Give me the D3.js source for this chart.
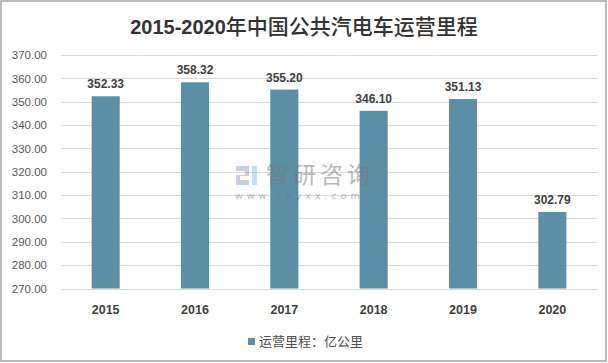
<!DOCTYPE html>
<html><head><meta charset="utf-8">
<script src="https://cdn.jsdelivr.net/npm/d3@7"></script>
<style>body{margin:0;background:#fff}svg{display:block}</style>
</head><body><svg id="c" width="608" height="363"></svg>
<script>
const years = ["2015","2016","2017","2018","2019","2020"];
const mileage = [352.33, 358.32, 355.20, 346.10, 351.13, 302.79];
const yTicks = [270,280,290,300,310,320,330,340,350,360,370];
const titleLead = "2015-2020";
const titleRest = "年中国公共汽电车运营里程";
const seriesName = "运营里程：亿公里";

const svg = d3.select("#c");
const barColor = "#5B8FA6";
const cjk = "'Noto Sans CJK SC','Microsoft YaHei',sans-serif";
const latin = "'Liberation Sans',Arial,sans-serif";
svg.append("rect").attr("x",1).attr("y",1).attr("width",605).attr("height",360)
  .attr("fill","#fff").attr("stroke","#a6a6a6").attr("stroke-width",1.5);

const x = d3.scaleBand().domain(years).range([61,597]).paddingInner(0.686).paddingOuter(0.343);
const y = d3.scaleLinear().domain([270,370]).range([288.5,55]);

// gridlines
svg.append("g").selectAll("line").data(yTicks).join("line")
  .attr("x1",61).attr("x2",597).attr("y1",d=>Math.round(y(d))+0.5).attr("y2",d=>Math.round(y(d))+0.5)
  .attr("stroke","#d9d9d9").attr("stroke-width",1);

// y axis labels
const yAxis = d3.axisLeft(y).tickValues(yTicks).tickFormat(d3.format(".2f")).tickSize(0).tickPadding(0);
const ya = svg.append("g").attr("transform","translate(47,0)").call(yAxis);
ya.select(".domain").remove();
ya.selectAll("text").attr("fill","#595959").style("font-family",latin).style("font-size","11.5px");

// bars
svg.append("g").selectAll("rect").data(years).join("rect")
  .attr("x",d=>x(d)).attr("width",x.bandwidth())
  .attr("y",(d,i)=>y(mileage[i])).attr("height",(d,i)=>y(270)-y(mileage[i]))
  .attr("fill",barColor);

// axis line
svg.append("line").attr("x1",61).attr("x2",597).attr("y1",289.5).attr("y2",289.5).attr("stroke","#d9d9d9");

// watermark (on top, semi-transparent)
const wm = svg.append("g").attr("opacity",0.5);
wm.append("path").attr("d","M236,166 h13 v10 h-9 v4 h9 v5 h-13 v-10 h9 v-4 h-9 z").attr("fill","#8fa2c2");
wm.append("rect").attr("x",252).attr("y",166).attr("width",5).attr("height",19).attr("fill","#8cc3e6");
wm.append("text").attr("x",266).attr("y",183).text("智研咨询")
  .attr("fill","#777").style("font-family",cjk).style("font-size","23px").style("letter-spacing","4px");
wm.append("text").attr("x",235).attr("y",199).text("www.chyxx.com")
  .attr("fill","#777").style("font-family","'DejaVu Sans',sans-serif").style("font-size","9.5px").style("letter-spacing","4px");

// value labels
svg.append("g").selectAll("text").data(years).join("text")
  .attr("x",d=>x(d)+x.bandwidth()/2).attr("y",(d,i)=>y(mileage[i])-8)
  .attr("text-anchor","middle").text((d,i)=>mileage[i].toFixed(2))
  .attr("fill","#404040").style("font-family",latin).style("font-weight","bold").style("font-size","12px");

// x labels
const xAxis = d3.axisBottom(x).tickSize(0).tickPadding(0);
const xa = svg.append("g").attr("transform","translate(0,305)").call(xAxis);
xa.select(".domain").remove();
xa.selectAll("text").attr("fill","#404040").attr("dy","0.71em").style("font-family",latin).style("font-weight","bold").style("font-size","12.5px");

// title
const t = svg.append("text").attr("x",304).attr("y",33.5).attr("text-anchor","middle").attr("fill","#333");
t.append("tspan").text(titleLead).style("font-family",latin).style("font-weight","bold").style("font-size","20px");
t.append("tspan").text(titleRest).style("font-family",cjk).style("font-weight","500").style("font-size","21px");

// legend
svg.append("rect").attr("x",248).attr("y",338).attr("width",7).attr("height",7).attr("fill",barColor);
svg.append("text").attr("x",259).attr("y",345.5).text(seriesName)
  .attr("fill","#505050").style("font-family",cjk).style("font-size","13px");
</script></body></html>
